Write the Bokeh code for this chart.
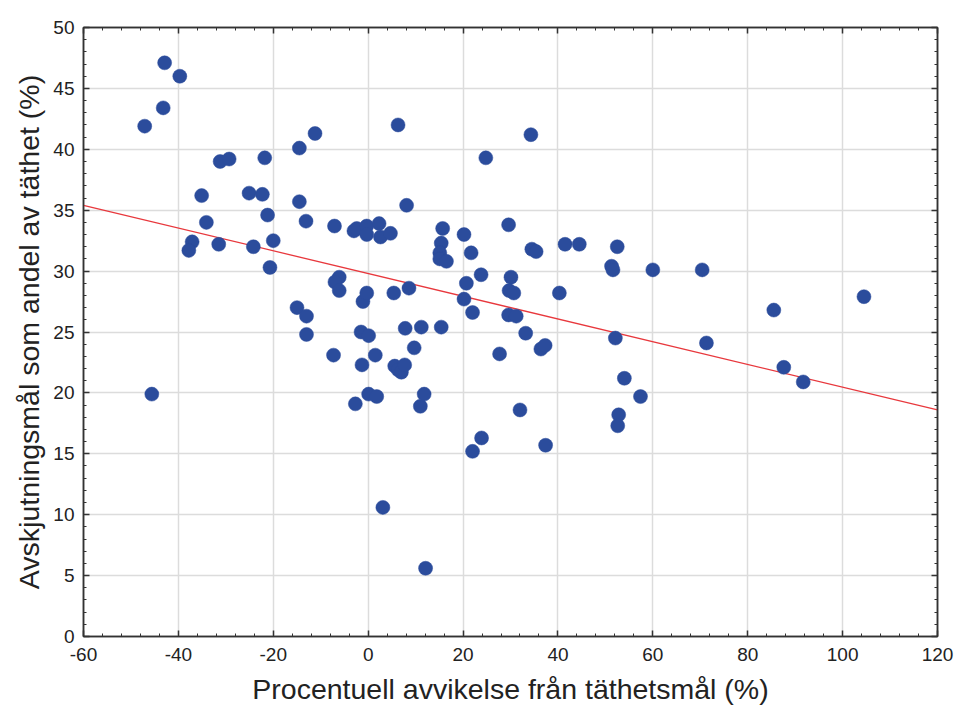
from bokeh.plotting import figure
from bokeh.models import ColumnDataSource, Range1d, LinearAxis, FixedTicker
from bokeh.embed import file_html
from bokeh.resources import INLINE

# Data
avvikelse = [-47.1, -42.9, -43.2, -39.7, -45.6, -37.1, -37.8, -35.1, -34.1, -31.2,
             -29.3, -31.5, -25.1, -22.3, -21.8, -24.2, -21.2, -20.0, -20.7, -14.5,
             -11.2, -14.5, -13.1, -15.0, -13.0, -13.0, -7.1, -7.3, -6.1, -7.0,
             -6.1, -3.0, -2.4, -2.7, -1.1, -1.5, -1.3, -0.3, -0.3, -0.3,
             0.1, 0.1, 1.8, 1.5, 2.3, 2.6, 4.7, 3.1, 5.4, 6.3,
             8.1, 8.6, 7.8, 5.6, 6.3, 7.0, 7.7, 9.7, 11.2, 11.8,
             11.0, 12.1, 15.4, 15.7, 15.4, 15.1, 15.1, 16.5, 20.2, 21.7,
             20.7, 20.2, 22.0, 23.8, 24.8, 22.0, 23.9, 27.7, 29.6, 30.1,
             29.7, 30.7, 29.6, 31.2, 32.0, 33.2, 34.3, 34.5, 35.4, 36.4,
             37.3, 37.4, 40.3, 41.5, 44.5, 51.3, 51.6, 52.1, 52.5, 52.8,
             52.6, 54.0, 57.4, 60.0, 70.4, 71.3, 85.5, 87.6, 91.7, 104.5]
andel = [41.9, 47.1, 43.4, 46.0, 19.9, 32.4, 31.7, 36.2, 34.0, 39.0,
         39.2, 32.2, 36.4, 36.3, 39.3, 32.0, 34.6, 32.5, 30.3, 40.1,
         41.3, 35.7, 34.1, 27.0, 26.3, 24.8, 33.7, 23.1, 29.5, 29.1,
         28.4, 33.3, 33.5, 19.1, 27.5, 25.0, 22.3, 33.7, 33.0, 28.2,
         24.7, 19.9, 19.7, 23.1, 33.9, 32.8, 33.1, 10.6, 28.2, 42.0,
         35.4, 28.6, 25.3, 22.2, 21.9, 21.7, 22.3, 23.7, 25.4, 19.9,
         18.9, 5.6, 25.4, 33.5, 32.3, 31.5, 31.0, 30.8, 33.0, 31.5,
         29.0, 27.7, 26.6, 29.7, 39.3, 15.2, 16.3, 23.2, 33.8, 29.5,
         28.4, 28.2, 26.4, 26.3, 18.6, 24.9, 41.2, 31.8, 31.6, 23.6,
         23.9, 15.7, 28.2, 32.2, 32.2, 30.4, 30.1, 24.5, 32.0, 18.2,
         17.3, 21.2, 19.7, 30.1, 30.1, 24.1, 26.8, 22.1, 20.9, 27.9]

# Regression line end points
trend_x = [-60, 120]
trend_y = [35.4, 18.6]

x_ticks = [-60, -40, -20, 0, 20, 40, 60, 80, 100, 120]
y_ticks = [0, 5, 10, 15, 20, 25, 30, 35, 40, 45, 50]
x_labels = ["-60", "-40", "-20", "0", "20", "40", "60", "80", "100", "120"]
y_labels = ["0", "5", "10", "15", "20", "25", "30", "35", "40", "45", "50"]

FONT = "Liberation Sans"

p = figure(width=957, height=709, output_backend="svg", toolbar_location=None,
           x_range=Range1d(-60, 120), y_range=Range1d(0, 50),
           min_border_left=83, min_border_right=20, min_border_top=27,
           min_border_bottom=73)
p.background_fill_color = "white"
p.border_fill_color = "white"
p.outline_line_color = "#333333"
p.outline_line_width = 1.5

p.xgrid.ticker = FixedTicker(ticks=x_ticks)
p.ygrid.ticker = FixedTicker(ticks=y_ticks)
p.grid.grid_line_color = "#dcdcdc"
p.grid.grid_line_width = 1.5

src = ColumnDataSource(dict(x=avvikelse, y=andel))
p.line(trend_x, trend_y, line_color="#e8383d", line_width=1.3)
p.scatter("x", "y", source=src, size=14, fill_color="#2b4c9c",
          line_color="#2b4c9c", line_alpha=0.5, line_width=1)

x_minor = [v for v in range(-60, 121, 4)]
y_minor = [v for v in range(0, 51)]

def style_axis(ax, ticks, minor, labels):
    ax.ticker = FixedTicker(ticks=ticks, minor_ticks=minor)
    ax.major_tick_in = 6
    ax.major_tick_out = 0
    ax.minor_tick_in = 3
    ax.minor_tick_out = 0
    ax.major_tick_line_color = "#333333"
    ax.minor_tick_line_color = "#333333"
    ax.major_tick_line_width = 1.5
    ax.axis_line_color = "#333333"
    ax.axis_line_width = 1.5
    ax.major_label_text_font = FONT
    ax.major_label_text_font_size = "19px"
    ax.major_label_text_color = "#222222"
    ax.axis_label_text_font = FONT
    ax.axis_label_text_font_size = "28.5px"
    ax.axis_label_text_font_style = "normal"
    ax.axis_label_text_color = "#222222"
    ax.major_label_overrides = {t: lab for t, lab in zip(ticks, labels)}

xa = p.xaxis[0]
style_axis(xa, x_ticks, x_minor, x_labels)
xa.axis_label = "Procentuell avvikelse från täthetsmål (%)"
xa.major_label_standoff = 11
xa.axis_label_standoff = 9

ya = p.yaxis[0]
style_axis(ya, y_ticks, y_minor, y_labels)
ya.axis_label = "Avskjutningsmål som andel av täthet (%)"
ya.major_label_standoff = 9
ya.axis_label_standoff = 5

top = LinearAxis()
style_axis(top, x_ticks, x_minor, [""] * len(x_ticks))
p.add_layout(top, "above")
right = LinearAxis()
style_axis(right, y_ticks, y_minor, [""] * len(y_ticks))
p.add_layout(right, "right")

open("out.html", "w").write(file_html(p, INLINE))
